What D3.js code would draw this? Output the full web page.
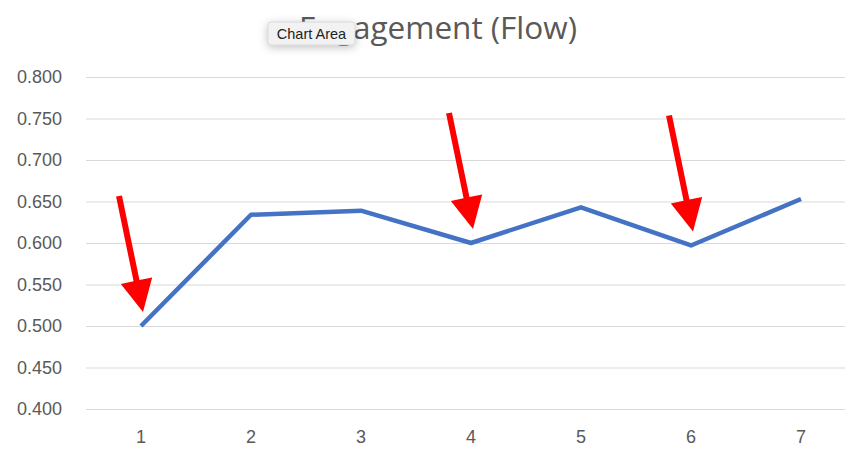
<!DOCTYPE html>
<html>
<head>
<meta charset="utf-8">
<script src="https://cdn.jsdelivr.net/npm/d3@7"></script>
<style>
  body { margin: 0; background: #fff; }
  svg { font-family: "Open Sans", "Liberation Sans", sans-serif; }
  .grid line { stroke: #d9d9d9; stroke-width: 1; }
  .grid path { display: none; }
  .axis path, .axis line { display: none; }
  .axis text { fill: #595959; font-size: 18px; }
  .flow-line { fill: none; stroke: #4472c4; stroke-width: 4.5; stroke-linejoin: round; }
</style>
</head>
<body>
<svg width="845" height="450"></svg>
<script>
var categories = ["1", "2", "3", "4", "5", "6", "7"];
var flow = [0.500, 0.634, 0.639, 0.600, 0.643, 0.597, 0.653];
var yTicks = [0.400, 0.450, 0.500, 0.550, 0.600, 0.650, 0.700, 0.750, 0.800];
var arrowAt = ["1", "4", "6"];

var svg = d3.select("svg"),
    margin = {top: 77, right: -11, bottom: 41, left: 86},
    width = +svg.attr("width") - margin.left - margin.right,
    height = +svg.attr("height") - margin.top - margin.bottom;

var x = d3.scaleBand().domain(categories).range([0, width]),
    y = d3.scaleLinear().domain([0.4, 0.8]).range([height, 0]);

var g = svg.append("g")
    .attr("transform", "translate(" + margin.left + "," + margin.top + ")");

// gridlines
g.append("g")
    .attr("class", "grid")
    .call(d3.axisLeft(y).tickValues(yTicks).tickSize(-width).tickFormat(""));

g.append("g")
    .attr("class", "axis axis--y")
    .call(d3.axisLeft(y).tickValues(yTicks).tickFormat(d3.format(".3f")).tickSize(0).tickPadding(24));

g.append("g")
    .attr("class", "axis axis--x")
    .attr("transform", "translate(0," + height + ")")
    .call(d3.axisBottom(x).tickSize(0).tickPadding(21));

var line = d3.line()
    .x(function(d, i) { return x(categories[i]) + x.bandwidth() / 2; })
    .y(function(d) { return y(d); });

g.append("path")
    .attr("class", "flow-line")
    .attr("d", line(flow));

// red arrows pointing at the dips
arrowAt.forEach(function(c) {
    var i = categories.indexOf(c);
    var tipX = x(c) + x.bandwidth() / 2 + 2,
        tipY = y(flow[i]) - 14,
        tailX = tipX - 24,
        tailY = tipY - 116;
    var ang = Math.atan2(tipY - tailY, tipX - tailX);
    var headLen = 32, headHalf = 16, shaftHalf = 3;
    var ux = Math.cos(ang), uy = Math.sin(ang), px = -uy, py = ux;
    var bx = tipX - ux * headLen, by = tipY - uy * headLen;
    var pts = [
        [tailX + px * shaftHalf, tailY + py * shaftHalf],
        [bx + px * shaftHalf, by + py * shaftHalf],
        [bx + px * headHalf, by + py * headHalf],
        [tipX, tipY],
        [bx - px * headHalf, by - py * headHalf],
        [bx - px * shaftHalf, by - py * shaftHalf],
        [tailX - px * shaftHalf, tailY - py * shaftHalf]
    ];
    g.append("polygon")
        .attr("points", pts.map(function(p) { return p.join(","); }).join(" "))
        .attr("fill", "#ff0000");
});

svg.append("text")
    .attr("x", 438)
    .attr("y", 39)
    .attr("text-anchor", "middle")
    .style("font-size", "31.5px")
    .style("fill", "#595959")
    .text("Engagement (Flow)");

// "Chart Area" hover tooltip
var defs = svg.append("defs");
var f = defs.append("filter").attr("id", "shadow").attr("x", "-30%").attr("y", "-50%").attr("width", "160%").attr("height", "220%");
f.append("feDropShadow").attr("dx", 0).attr("dy", 2).attr("stdDeviation", 4).attr("flood-color", "#000").attr("flood-opacity", 0.25);

var tip = svg.append("g").attr("transform", "translate(268,22)");
tip.append("rect")
    .attr("width", 87).attr("height", 23).attr("rx", 3)
    .attr("fill", "#f2f2f2").attr("stroke", "#c8c8c8").attr("stroke-width", 0.6)
    .attr("filter", "url(#shadow)");
tip.append("text")
    .attr("x", 43.5).attr("y", 16.5)
    .attr("text-anchor", "middle")
    .style("font-family", "'Liberation Sans', Arial, sans-serif")
    .style("font-size", "14.5px")
    .style("fill", "#222")
    .text("Chart Area");
</script>
</body>
</html>
